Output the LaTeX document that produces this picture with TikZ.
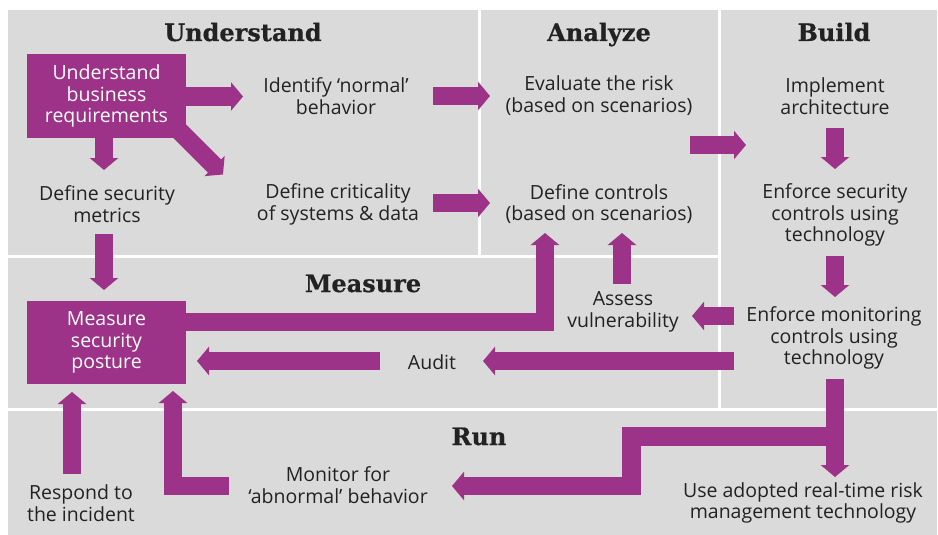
\documentclass[tikz,border=0pt]{standalone}
\usepackage{fontspec}
\setmainfont{Open Sans}
\newfontfamily\titlefont{DejaVu Serif Bold}[FakeBold=0.6]
\usetikzlibrary{arrows.meta,calc}
\definecolor{panel}{HTML}{DADADA}
\definecolor{plum}{HTML}{9C3388}
\definecolor{ink}{HTML}{222222}
\tikzset{
  panelbox/.style={fill=panel, draw=none},
  title/.style={font=\titlefont\fontsize{24}{26}\selectfont, text=ink, anchor=base, inner sep=0pt},
  lbl/.style={font=\fontsize{19.5}{21.8}\selectfont, text=ink, align=center, inner sep=0pt},
  pbox/.style={fill=plum, text=white, align=center, font=\fontsize{19.5}{21.5}\selectfont, minimum width=159pt, minimum height=83pt, inner sep=0pt},
  flow/.style={draw=plum, line width=18.5pt, -{Triangle[width=28pt,length=12pt]}, line join=miter},
}
\begin{document}
\begin{tikzpicture}[x=1pt,y=-1pt]
\useasboundingbox (0,0) rectangle (938,535);
\fill[white] (0,0) rectangle (938,535);
% panels
\fill[panelbox] (8,10) rectangle (477.5,255);
\fill[panelbox] (480.5,10) rectangle (718,255);
\fill[panelbox] (721,10) rectangle (937,408);
\fill[panelbox] (8,258) rectangle (718,408);
\fill[panelbox] (8,411) rectangle (937,535);
% titles
\node[title] (tu) at (243,41) {Understand};
\node[title] (ta) at (599,41) {Analyze};
\node[title] (tb) at (834,41) {Build};
\node[title] (tm) at (363,292) {Measure};
\node[title] (tr) at (479,445) {Run};
% nodes
\node[lbl] (inb) at (336,96) {Identify ‘normal’\\behavior};
\node[lbl] (dsm) at (107,204) {Define security\\metrics};
\node[lbl] (dcs) at (338,204) {Define criticality\\of systems \& data};
\node[lbl] (evr) at (599,96) {Evaluate the risk\\(based on scenarios)};
\node[lbl] (dco) at (599,204) {Define controls\\(based on scenarios)};
\node[lbl] (ima) at (835,96) {Implement\\architecture};
\node[lbl] (esc) at (835,215) {Enforce security\\controls using\\technology};
\node[lbl] (asv) at (623,312) {Assess\\vulnerability};
\node[lbl] (emc) at (834,338) {Enforce monitoring\\controls using\\technology};
\node[lbl] (aud) at (432,362) {Audit};
\node[lbl] (rsp) at (81,503) {Respond to\\the incident};
\node[lbl] (mon) at (338,485) {Monitor for\\‘abnormal’ behavior};
\node[lbl] (use) at (803,503) {Use adopted real-time risk\\management technology};
% arrows under the purple boxes
\coordinate (ubrc) at (106.5,96);
\coordinate (mspc) at (106.5,342.5);
\draw[flow] ($(ubrc)+(67.5,29.5)$) -- ++(49,49);
\draw[flow] ($(ubrc)+(79.5,0.5)$) -- ($(inb)+(-93,0.5)$);
\draw[flow] ($(ubrc)+(-2.5,41.5)$) -- ($(dsm)+(-3,-34)$);
\draw[flow] ($(inb)+(97,0)$) -- ($(evr)+(-109,0)$);
\draw[flow] ($(dcs)+(95,-1)$) -- ($(dco)+(-109,-1)$);
\draw[flow] ($(evr)+(91,49)$) -- ($(ima)+(-89,49)$);
\draw[flow] ($(ima)+(0,32)$) -- ($(esc)+(0,-46)$);
\draw[flow] ($(esc)+(0,41)$) -- ($(emc)+(1,-41)$);
\draw[flow] ($(emc)+(-100,-22)$) -- ($(asv)+(69,4)$);
\draw[flow] ($(emc)+(-100,23)$) -- ($(aud)+(51,-1)$);
\draw[flow] ($(aud)+(-52,-1)$) -- ($(mspc)+(90.5,18.5)$);
\draw[flow] ($(asv)+(-1,-28)$) -- ($(dco)+(23,29)$);
\draw[flow] ($(mspc)+(79,-20.5)$) -| ($(dco)+(-54,29)$);
\draw[flow] ($(dsm)+(-3,30)$) -- ($(mspc)+(-2.5,-52.5)$);
\draw[flow] ($(rsp)+(-9,-29)$) -- ($(mspc)+(-34.5,49.5)$);
\draw[flow] ($(mon)+(-109,1)$) -| ($(mspc)+(66.5,48.5)$);
\draw[flow] ($(emc)+(1,41)$) -- ($(use)+(32,-26)$);
\draw[flow] ($(emc)+(10,98.5)$) -- ++(-212.5,0) |- ($(mon)+(114,1)$);
% purple boxes
\node[pbox] (ubr) at (ubrc) {Understand\\business\\requirements};
\node[pbox] (msp) at (mspc) {Measure\\security\\posture};
\end{tikzpicture}
\end{document}
